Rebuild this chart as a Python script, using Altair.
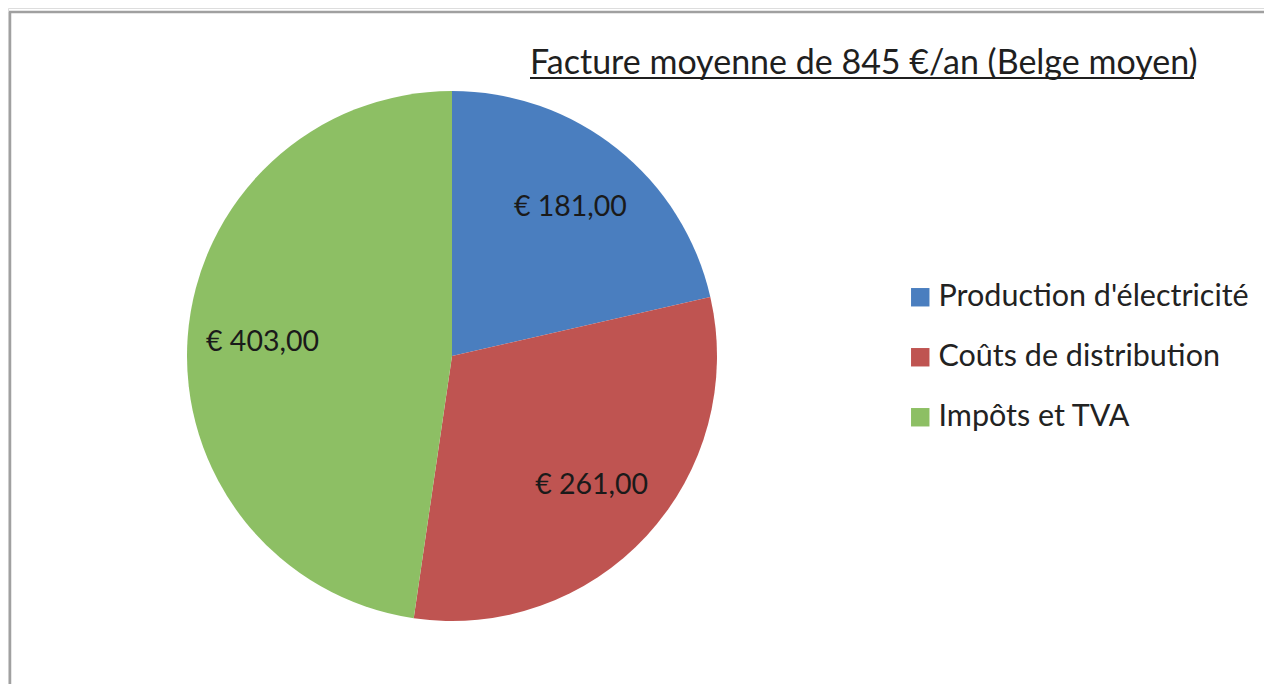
import altair as alt
import pandas as pd

categories = ["Production d'électricité", "Coûts de distribution", "Impôts et TVA"]
values = [181, 261, 403]
labels = ["€ 181,00", "€ 261,00", "€ 403,00"]
order = [1, 2, 3]
colors = ["#4A7EBF", "#BF5451", "#8DBF64"]
title_text = "Facture moyenne de 845 €/an (Belge moyen)"

FONT = "Lato"
CX, CY, R = 444, 348, 265

df = pd.DataFrame({"cat": categories, "val": values, "lab": labels, "ord": order})

base = alt.Chart(df).encode(
    theta=alt.Theta("val:Q", stack=True),
    order=alt.Order("ord:Q", sort="ascending"),
    x=alt.value(CX),
    y=alt.value(CY),
)

pie = base.mark_arc(outerRadius=R).encode(
    color=alt.Color(
        "cat:N",
        scale=alt.Scale(domain=categories, range=colors),
        sort=categories,
        legend=alt.Legend(
            title=None,
            orient="none",
            legendX=897,
            legendY=274,
            symbolType="square",
            symbolSize=340,
            symbolStrokeWidth=0,
            labelFontSize=30.5,
            labelFont=FONT,
            labelColor="#222222",
            labelOffset=3,
            rowPadding=29,
            padding=0,
            labelLimit=600,
        ),
    )
)

text = base.mark_text(radius=190, font=FONT, fontSize=28.5, color="#1a1a1a").encode(
    text="lab:N"
)

one = pd.DataFrame({"t": [title_text]})

title = alt.Chart(one).mark_text(
    font=FONT, fontSize=34, align="left", baseline="alphabetic", color="#1f1f1f"
).encode(text="t:N", x=alt.value(522), y=alt.value(66))

underline = alt.Chart(one).mark_rule(color="#1f1f1f", strokeWidth=2).encode(
    x=alt.value(522), x2=alt.value(1186), y=alt.value(70)
)

border_left = alt.Chart(one).mark_rule(color="#a0a0a0", strokeWidth=2.5).encode(
    x=alt.value(2), y=alt.value(4), y2=alt.value(676)
)
border_top = alt.Chart(one).mark_rule(color="#a0a0a0", strokeWidth=2.5).encode(
    x=alt.value(1), x2=alt.value(1256), y=alt.value(4)
)

chart = (
    alt.layer(border_left, border_top, pie, text, title, underline)
    .properties(width=1256, height=676, padding=0, autosize=alt.AutoSizeParams(type="none"))
    .configure_view(stroke=None)
    .configure(background="white")
)

chart.save("out.html", embed_options={"renderer": "svg", "actions": False})
